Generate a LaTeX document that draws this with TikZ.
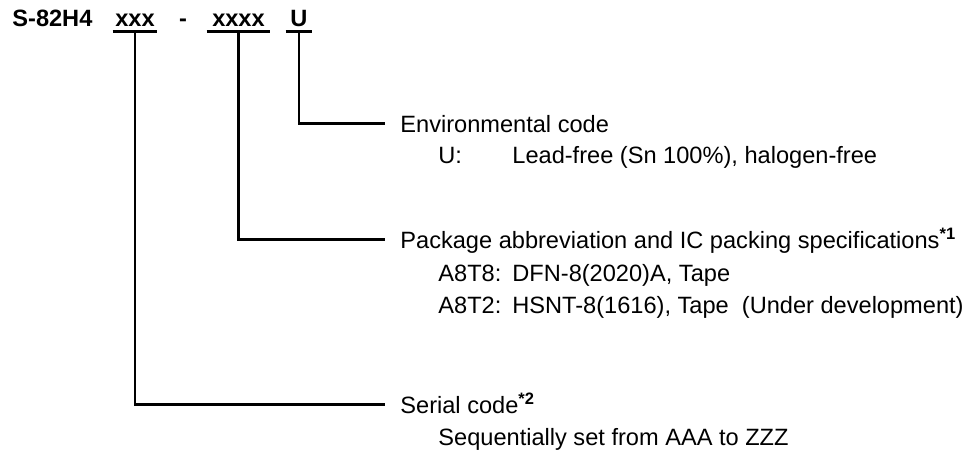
\documentclass[tikz,border=0pt]{standalone}
\usepackage{fontspec}
\setmainfont{Liberation Sans}
\begin{document}
\begin{tikzpicture}[x=0.5pt,y=-0.5pt,
	every node/.style={font=\fontsize{11.8}{14}\selectfont},
	code/.style={font=\fontsize{11.8}{14}\selectfont\bfseries,anchor=base,
		inner xsep=0pt,inner ysep=2.5pt,text height=8.5pt,text depth=0pt,minimum width=#1},
	desc/.style={anchor=west,inner sep=0pt,text height=8.5pt,text depth=0pt},
	sub/.style={anchor=base west,inner sep=0pt},
	link/.style={line width=1.2pt,shorten >=7.5pt}]
	\useasboundingbox (0,0) rectangle (973,451);
	\node[anchor=base west,inner sep=0pt,font=\fontsize{11.8}{14}\selectfont\bfseries] (part) at (12,26) {S-82H4};
	\node[code=22pt] (serial) at (135,26) {xxx};
	\node[anchor=base,font=\fontsize{11.8}{14}\selectfont\bfseries] (dash) at (183,26) {-};
	\node[code=31.5pt] (package) at (238.5,26) {xxxx};
	\node[code=13pt] (envir) at (299,26) {U};
	\node[desc] (envtxt) at (400,123.5) {Environmental code};
	\node[sub] (envU) at (438,163) {\makebox[37pt][l]{U:}Lead-free (Sn 100\%), halogen-free};
	\node[desc] (pkgtxt) at (400,239.5) {Package abbreviation and IC packing specifications\textsuperscript{\bfseries *1}};
	\node[sub] (pkgA) at (438,281) {\makebox[37pt][l]{A8T8:}DFN-8(2020)A, Tape};
	\node[sub] (pkgB) at (438,313) {\makebox[37pt][l]{A8T2:}HSNT-8(1616), Tape\ \ (Under development)};
	\node[desc] (sertxt) at (400,404.5) {Serial code\textsuperscript{\bfseries *2}};
	\node[sub] (serseq) at (438,445) {Sequentially set from AAA to ZZZ};
	\foreach \c in {serial,package,envir}
		\draw[line width=1.2pt] (\c.south west) -- (\c.south east);
	\draw[link] (envir.south) |- (envtxt.west);
	\draw[link] (package.south) |- (pkgtxt.west);
	\draw[link] (serial.south) |- (sertxt.west);
\end{tikzpicture}
\end{document}
